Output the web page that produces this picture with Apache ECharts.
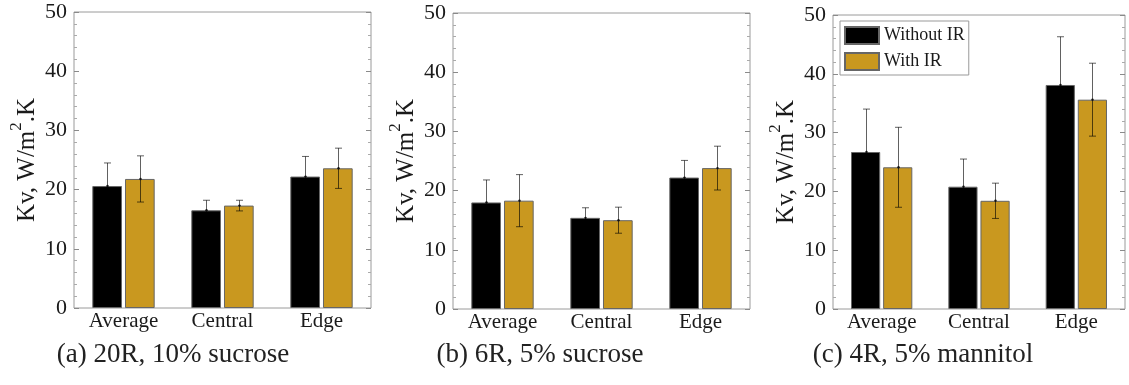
<!DOCTYPE html>
<html>
<head>
<meta charset="utf-8">
<script src="https://cdn.jsdelivr.net/npm/echarts@6/dist/echarts.min.js"></script>
<style>
  html, body { margin: 0; padding: 0; background: #fff; }
  #chart { width: 1129px; height: 385px; }
</style>
</head>
<body>
<div id="chart"></div>
<script>
// Thermal conductance Kv by vial position, with and without IR heating
const categories = ['Average', 'Central', 'Edge'];
const seriesNames = ['Without IR', 'With IR'];
const captions = ['(a) 20R, 10% sucrose', '(b) 6R, 5% sucrose', '(c) 4R, 5% mannitol'];
const yTicks = [0, 10, 20, 30, 40, 50];

// (a) 20R, 10% sucrose
const withoutIR_a = [20.6, 16.5, 22.2];
const withoutIR_a_err = [3.9, 1.7, 3.4];
const withIR_a = [21.8, 17.3, 23.6];
const withIR_a_err = [3.9, 0.9, 3.4];

// (b) 6R, 5% sucrose
const withoutIR_b = [18.0, 15.4, 22.2];
const withoutIR_b_err = [3.8, 1.7, 2.9];
const withIR_b = [18.3, 15.0, 23.8];
const withIR_b_err = [4.4, 2.2, 3.7];

// (c) 4R, 5% mannitol
const withoutIR_c = [26.7, 20.8, 38.1];
const withoutIR_c_err = [7.3, 4.7, 8.2];
const withIR_c = [24.1, 18.4, 35.6];
const withIR_c_err = [6.8, 3.0, 6.2];

const panels = [
  { without: withoutIR_a, withoutErr: withoutIR_a_err, withIR: withIR_a, withErr: withIR_a_err },
  { without: withoutIR_b, withoutErr: withoutIR_b_err, withIR: withIR_b, withErr: withIR_b_err },
  { without: withoutIR_c, withoutErr: withoutIR_c_err, withIR: withIR_c, withErr: withIR_c_err }
];

const FONT = '"Liberation Serif", "Times New Roman", serif';
const TEXT = '#1a1a1a';
const FRAME = '#9a9a9a';
const COLORS = ['#000000', '#C9981F'];

const grids = [
  { left: 74, top: 12, width: 297, height: 296 },
  { left: 453, top: 13, width: 297, height: 296 },
  { left: 833, top: 15, width: 292, height: 294 }
];
const captionCenters = [173, 540, 923];

const BAR_FRAC = 0.30;   // bar width as fraction of category band
const GAP_FRAC = 0.10;   // gap between paired bars as fraction of bar width

function errorBarRenderer(side) {
  return function (params, api) {
    const idx = api.value(0);
    const v = api.value(1);
    const e = api.value(2);
    const band = api.size([1, 0])[0];
    const off = side * band * BAR_FRAC * (1 + GAP_FRAC) / 2;
    const hi = api.coord([idx, v + e]);
    const lo = api.coord([idx, v - e]);
    const mid = api.coord([idx, v]);
    const x = Math.round(hi[0] + off) + 0.5;
    const cap = 3.5;
    const st = { stroke: 'rgba(0,0,0,0.62)', lineWidth: 1 };
    return {
      type: 'group',
      children: [
        { type: 'line', shape: { x1: x, y1: hi[1], x2: x, y2: lo[1] }, style: st },
        { type: 'line', shape: { x1: x - cap, y1: hi[1], x2: x + cap, y2: hi[1] }, style: st },
        { type: 'line', shape: { x1: x - cap, y1: lo[1], x2: x + cap, y2: lo[1] }, style: st },
        { type: 'circle', shape: { cx: x, cy: mid[1], r: 1.2 }, style: { fill: '#111' } }
      ]
    };
  };
}

const xAxes = [], yAxes = [], series = [], gridOpts = [], graphics = [];

grids.forEach((g, i) => {
  gridOpts.push(Object.assign({ show: true, borderColor: FRAME, borderWidth: 1, backgroundColor: '#fff' }, g));

  xAxes.push({
    gridIndex: i, type: 'category', data: categories,
    axisLine: { show: false }, axisTick: { show: false },
    axisLabel: { color: TEXT, fontFamily: FONT, fontSize: 21, margin: 3 }
  });

  const yBase = {
    gridIndex: i, type: 'value', min: yTicks[0], max: yTicks[yTicks.length - 1], interval: 10,
    axisLine: { show: false }, splitLine: { show: false },
    axisTick: { show: true, inside: true, length: 5, lineStyle: { color: '#8a8a8a' } },
    minorTick: { show: true, splitNumber: 5, length: 3, lineStyle: { color: '#aaaaaa' } }
  };
  yAxes.push(Object.assign({}, yBase, {
    position: 'left',
    axisLabel: { color: TEXT, fontFamily: FONT, fontSize: 22, margin: 7 },
    name: '{a|Kv, W/m}{s|2}{a|.K}',
    nameLocation: 'middle', nameGap: 34, nameRotate: 90,
    nameTextStyle: {
      color: TEXT, fontFamily: FONT,
      rich: {
        a: { fontFamily: FONT, fontSize: 25, color: TEXT, lineHeight: 32, verticalAlign: 'bottom' },
        s: { fontFamily: FONT, fontSize: 17, color: TEXT, lineHeight: 32, verticalAlign: 'top' }
      }
    }
  }));
  yAxes.push(Object.assign({}, yBase, { position: 'right', axisLabel: { show: false } }));

  const p = panels[i];
  const yIdx = i * 2;
  [[p.without, p.withoutErr], [p.withIR, p.withErr]].forEach(([vals, errs], s) => {
    series.push({
      name: seriesNames[s], type: 'bar', xAxisIndex: i, yAxisIndex: yIdx,
      data: vals, barWidth: (BAR_FRAC * 100) + '%', barGap: (GAP_FRAC * 100) + '%',
      itemStyle: { color: COLORS[s], borderColor: '#666', borderWidth: 1 },
      emphasis: { disabled: true }, z: 2
    });
  });
  [[p.without, p.withoutErr, -1], [p.withIR, p.withErr, 1]].forEach(([vals, errs, side]) => {
    series.push({
      type: 'custom', xAxisIndex: i, yAxisIndex: yIdx,
      renderItem: errorBarRenderer(side),
      encode: { x: 0, y: 1 },
      data: vals.map((v, k) => [k, v, errs[k]]),
      z: 5, silent: true
    });
  });

  graphics.push({
    type: 'text',
    x: captionCenters[i], y: 355,
    style: {
      text: captions[i], fontFamily: FONT, fontSize: 27, fill: '#222',
      textAlign: 'center', textVerticalAlign: 'middle'
    }
  });
});

const chart = echarts.init(document.getElementById('chart'), null, { renderer: 'canvas' });
chart.setOption({
  animation: false,
  backgroundColor: '#fff',
  grid: gridOpts,
  xAxis: xAxes,
  yAxis: yAxes,
  legend: {
    data: seriesNames.map(n => ({ name: n, icon: 'rect' })),
    orient: 'vertical', left: 840, top: 21,
    itemWidth: 34, itemHeight: 17, itemGap: 7, padding: [5, 4, 4, 4],
    borderColor: '#999', borderWidth: 1, backgroundColor: '#fff', borderRadius: 0,
    textStyle: { fontFamily: FONT, fontSize: 18, color: TEXT },
    selectedMode: false
  },
  series: series,
  graphic: graphics
});
</script>
</body>
</html>
